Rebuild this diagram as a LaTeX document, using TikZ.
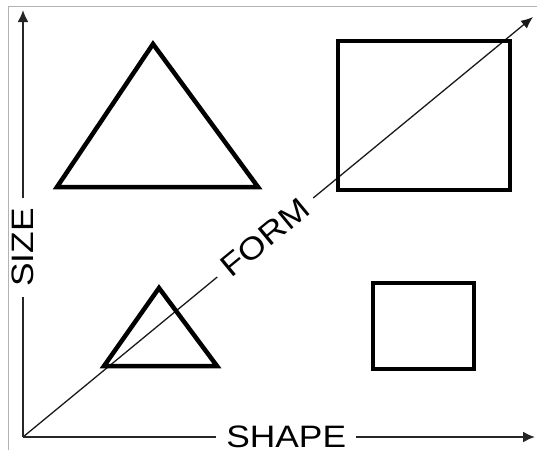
\documentclass[tikz,border=0pt]{standalone}
\usepackage{fontspec}
\setmainfont{Liberation Sans}
\newfontfamily\axisfont[FakeStretch=1.14]{Liberation Sans}
\usetikzlibrary{arrows.meta, calc}
\tikzset{
  axisline/.style = {-{Latex[length=12pt,width=11pt]}, draw=black!85,
                     line width=2pt},
  formline/.style = {-{Latex[length=12pt,width=10pt]}, draw=black!90,
                     line width=1.3pt},
  figline/.style  = {draw=black, line width=4.5pt, line join=miter},
  axlab/.style    = {font=\axisfont\fontsize{31}{34}\selectfont, fill=white,
                     inner xsep=10pt, inner ysep=0pt},
  edgeline/.style = {draw=black!30, line width=0.8pt},
}

\begin{document}
\begin{tikzpicture}[x=1pt, y=-1pt]
  \useasboundingbox (0,0) rectangle (537,450);
  % scan edge
  \coordinate (e1) at (8,450);
  \coordinate (e2) at (8,6);
  \coordinate (e3) at (537,6);
  \draw[edgeline] (e1) -- (e2) -- (e3);
  % axes
  \coordinate (origin) at (23,437);
  \coordinate (sizetip) at (23,10);
  \coordinate (shapetip) at (535,437);
  \coordinate (formtip) at (533,17);
  \draw[formline] (origin) -- node[axlab, sloped, pos=0.475] (formlab) {FORM} (formtip);
  \draw[axisline] (origin) -- node[axlab, rotate=90, pos=0.444] (sizelab) {SIZE} (sizetip);
  \draw[axisline] (origin) -- node[axlab, pos=0.514] (shapelab) {SHAPE} (shapetip);
  % large triangle
  \coordinate (bigtop) at (153,44);
  \coordinate (bigleft) at (57,187);
  \coordinate (bigright) at (258,187);
  \draw[figline] (bigtop) -- (bigright) -- (bigleft) -- cycle;
  % small triangle
  \coordinate (smalltop) at (159,288);
  \coordinate (smallleft) at (104,366);
  \coordinate (smallright) at (217,366);
  \draw[figline] (smalltop) -- (smallright) -- (smallleft) -- cycle;
  % large square
  \coordinate (bigsqa) at (338,41);
  \coordinate (bigsqb) at (510,190);
  \draw[figline] (bigsqa) rectangle (bigsqb);
  % small square
  \coordinate (smallsqa) at (373,283);
  \coordinate (smallsqb) at (474,369);
  \draw[figline] (smallsqa) rectangle (smallsqb);
\end{tikzpicture}
\end{document}
